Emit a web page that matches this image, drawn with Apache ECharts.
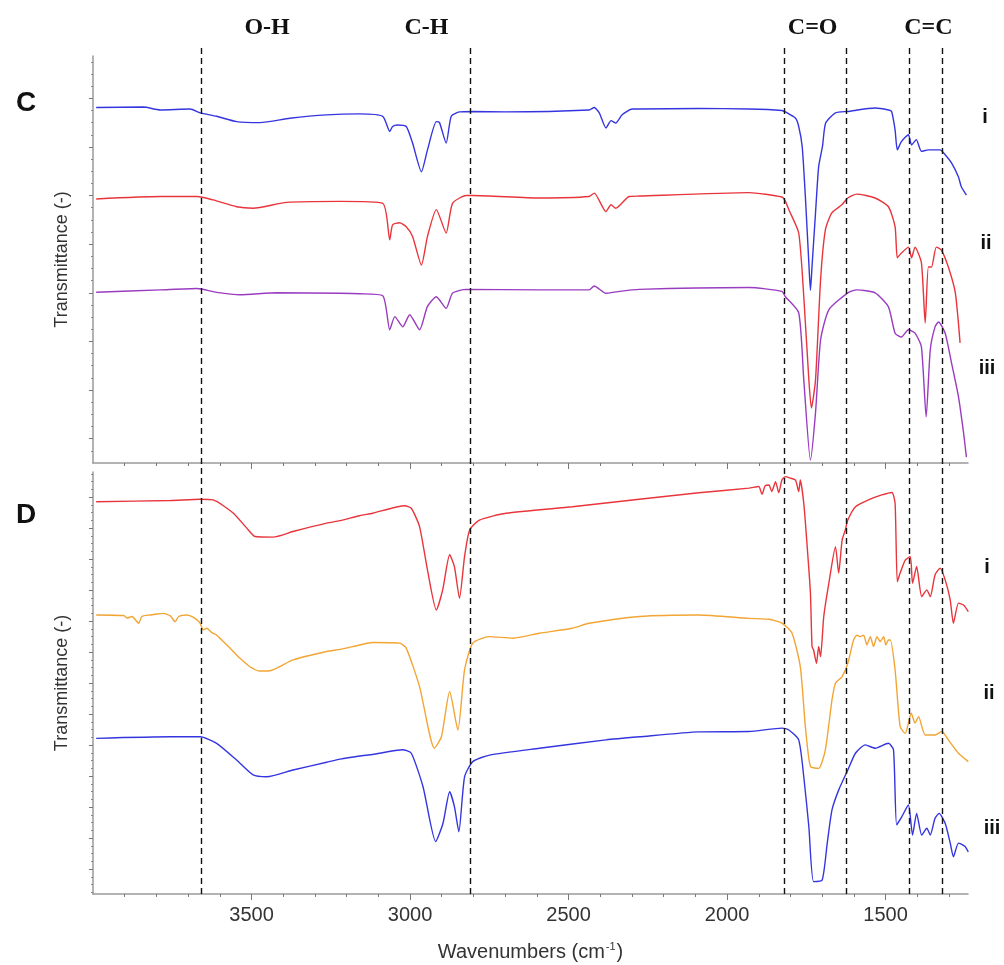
<!DOCTYPE html>
<html>
<head>
<meta charset="utf-8">
<script src="https://cdn.jsdelivr.net/npm/echarts@6/dist/echarts.min.js"></script>
<style>
html,body{margin:0;padding:0;background:#fff;}
#chart{width:1004px;height:965px;}
</style>
</head>
<body>
<div id="chart"></div>
<script>
// ---- Data: [wavenumber (cm-1), transmittance (a.u., offset)] ----
const cI = [[3990,73.1],[3841,73.2],[3788,72.6],[3694,72.8],[3662,72.0],[3610,71.3],[3547,70.2],[3473,70.0],[3379,70.9],[3263,71.6],[3159,71.8],[3086,71.3],[3064,68.2],[3055,69.2],[3039,69.5],[3012,69.2],[2992,65.8],[2964,59.9],[2945,64.4],[2917,70.2],[2907,70.0],[2886,65.8],[2870,71.3],[2844,72.2],[2803,72.3],[2697,72.2],[2435,72.6],[2419,73.1],[2403,72.0],[2382,68.9],[2366,70.4],[2351,69.9],[2331,71.6],[2299,72.8],[2277,72.8],[2089,72.9],[1931,72.8],[1827,72.5],[1816,72.2],[1784,70.9],[1774,69.2],[1763,65.1],[1753,54.8],[1742,41.1],[1737,35.5],[1732,40.4],[1721,51.4],[1711,61.0],[1699,65.1],[1689,69.9],[1658,72.0],[1619,72.3],[1533,73.0],[1491,72.6],[1481,72.3],[1470,68.5],[1463,64.4],[1450,66.1],[1428,67.5],[1418,65.4],[1403,66.5],[1387,64.1],[1365,64.4],[1328,64.4],[1312,63.4],[1292,61.7],[1270,58.8],[1261,56.8],[1245,55.1]];

const cII = [[3990,54.3],[3788,54.8],[3672,54.8],[3621,54.1],[3547,52.7],[3495,52.4],[3389,53.6],[3221,53.8],[3086,53.4],[3064,45.9],[3055,49.0],[3033,49.4],[3012,48.6],[2992,46.6],[2964,40.7],[2945,46.6],[2917,52.1],[2886,47.3],[2866,53.4],[2823,55.0],[2803,55.0],[2592,54.5],[2435,54.8],[2419,55.5],[2382,51.7],[2366,53.1],[2351,52.4],[2309,54.8],[2277,54.9],[1931,55.6],[1827,54.7],[1816,53.8],[1805,52.1],[1774,47.3],[1758,34.2],[1742,17.1],[1734,11.3],[1721,17.1],[1705,37.7],[1690,47.9],[1670,51.4],[1638,53.1],[1619,54.5],[1591,55.3],[1533,54.5],[1491,52.7],[1470,48.6],[1463,42.2],[1450,43.2],[1428,44.4],[1418,42.2],[1407,44.4],[1387,41.2],[1375,28.8],[1365,40.3],[1355,40.3],[1340,44.4],[1324,43.8],[1302,40.3],[1280,35.0],[1265,24.7]];

const cIII = [[3990,35.1],[3788,35.6],[3672,35.9],[3610,35.1],[3536,34.6],[3421,35.0],[3221,34.9],[3159,34.8],[3086,34.4],[3064,27.4],[3048,30.1],[3023,28.0],[3001,30.5],[2970,27.4],[2945,32.2],[2917,34.2],[2886,31.8],[2866,34.9],[2823,35.7],[2592,35.6],[2435,35.6],[2419,36.4],[2382,34.9],[2351,35.2],[2277,35.7],[1931,36.1],[1827,35.3],[1816,34.2],[1774,30.9],[1758,17.1],[1737,0.6],[1721,10.3],[1705,25.3],[1679,31.5],[1619,35.0],[1591,35.6],[1533,35.0],[1491,32.1],[1470,26.7],[1450,25.9],[1428,27.4],[1407,26.7],[1387,23.9],[1372,9.5],[1359,23.3],[1344,28.0],[1333,29.0],[1312,26.7],[1292,20.6],[1270,13.6],[1254,6.2],[1245,1.2]];

const dI = [[3990,126.5],[3756,126.9],[3662,127.3],[3621,127.1],[3558,122.9],[3515,118.0],[3489,115.3],[3432,115.1],[3369,116.9],[3263,119.6],[3221,120.4],[3159,122.0],[3118,122.8],[3017,125.2],[2996,124.4],[2970,118.5],[2945,104.5],[2917,91.6],[2897,98.1],[2875,109.4],[2860,105.6],[2844,95.4],[2828,108.8],[2812,117.4],[2781,120.6],[2697,122.8],[2488,124.9],[2277,127.3],[2089,129.4],[1931,130.9],[1900,131.4],[1890,128.9],[1880,131.6],[1868,131.9],[1859,129.8],[1847,133.0],[1837,129.4],[1827,133.5],[1816,134.6],[1800,134.1],[1784,133.5],[1774,129.8],[1769,133.5],[1758,126.0],[1748,113.1],[1737,97.0],[1732,79.8],[1727,78.7],[1718,74.4],[1711,79.8],[1705,76.5],[1695,89.5],[1679,100.2],[1658,112.0],[1648,103.5],[1637,114.2],[1627,117.4],[1619,120.6],[1595,124.9],[1554,127.1],[1512,128.7],[1480,129.5],[1470,126.0],[1463,100.7],[1454,103.5],[1438,107.7],[1422,108.8],[1415,100.2],[1402,105.6],[1386,95.9],[1370,98.1],[1359,95.9],[1344,102.9],[1328,105.1],[1312,101.3],[1296,94.8],[1286,87.3],[1270,93.8],[1254,93.2],[1239,91.1]];

const dII = [[3990,90.0],[3903,89.8],[3893,89.0],[3877,89.5],[3856,87.3],[3846,89.5],[3819,90.0],[3798,90.3],[3778,90.5],[3756,89.7],[3741,87.8],[3730,89.5],[3704,90.0],[3689,89.5],[3672,88.4],[3662,87.3],[3652,85.2],[3641,85.7],[3625,84.3],[3610,83.5],[3589,81.4],[3568,79.3],[3536,76.0],[3505,73.3],[3473,71.9],[3442,72.0],[3369,75.5],[3263,78.2],[3221,78.9],[3159,80.3],[3118,81.1],[3033,80.9],[3012,79.3],[2970,66.9],[2923,47.0],[2901,50.7],[2875,65.3],[2849,52.9],[2828,72.3],[2802,80.9],[2749,83.0],[2676,82.5],[2592,84.1],[2488,85.7],[2435,87.3],[2277,89.5],[2089,90.0],[1931,88.9],[1868,88.6],[1826,87.3],[1795,84.1],[1769,73.3],[1753,54.0],[1737,41.1],[1711,40.5],[1690,46.5],[1669,62.6],[1658,68.0],[1637,70.1],[1619,74.4],[1601,81.9],[1590,83.5],[1580,83.0],[1569,83.5],[1559,80.3],[1548,83.0],[1538,79.8],[1527,83.0],[1517,81.4],[1506,83.0],[1499,80.3],[1491,81.9],[1485,81.9],[1470,72.3],[1454,54.0],[1438,51.8],[1419,58.3],[1407,55.1],[1396,57.2],[1375,51.3],[1344,51.3],[1323,52.4],[1302,49.7],[1270,45.4],[1239,42.7]];

const dIII = [[3990,50.2],[3756,50.7],[3662,50.7],[3610,48.6],[3547,43.2],[3495,38.4],[3452,37.8],[3369,40.0],[3263,42.5],[3221,43.5],[3159,44.5],[3118,45.0],[3023,46.5],[2996,45.4],[2959,34.6],[2919,16.9],[2896,22.8],[2875,33.0],[2860,28.2],[2846,20.1],[2828,37.8],[2802,42.7],[2749,44.8],[2592,47.0],[2382,49.7],[2277,50.7],[2089,52.3],[1931,52.4],[1826,53.5],[1805,52.9],[1774,49.7],[1758,37.8],[1742,21.7],[1727,4.0],[1700,4.5],[1684,16.4],[1669,27.1],[1648,33.5],[1619,40.0],[1595,45.4],[1564,48.1],[1533,47.0],[1491,48.6],[1475,46.5],[1465,22.3],[1449,24.9],[1428,28.7],[1415,19.0],[1402,26.0],[1386,19.0],[1370,21.2],[1359,19.0],[1344,24.4],[1331,26.0],[1312,22.8],[1296,16.4],[1286,12.0],[1270,16.4],[1249,15.3],[1239,13.6]];

// band markers (dashed lines) and band labels
const dashedLines = [3660, 2810, 1820, 1625, 1425, 1320];
const bandLabels = ['O-H', 'C-H', 'C=O', 'C=C'];
const bandCenters = [3451, 2948, 1730, 1365];

// x-axis ticks
const xLabelValues = [1500, 2000, 2500, 3000, 3500];
const xMin = 1240, xMax = 4000;
const yMaxC = 83.7, yMaxD = 136.1;

// ---- derived tick lists ----
const xMinor = []; for (let v = 1300; v <= 3900; v += 100) if (v % 500) xMinor.push(v);
function ticks(start, step, max){ const a=[]; for(let v=start; v<=max+1e-9; v+=step) a.push(+v.toFixed(2)); return a; }
const cMajor = ticks(5, 10, yMaxC);
const cMinor = ticks(2.5, 2.5, yMaxC).filter(v => !cMajor.includes(v));
const dMajor = ticks(8, 10, yMaxD);
const dMinor = ticks(0.5, 2.5, yMaxD).filter(v => !dMajor.includes(v));

const AX = '#9a9a9a';
const FONT = 'Liberation Sans, Arial, sans-serif';

function xAx(grid, opts){
  return Object.assign({
    type:'value', gridIndex:grid, min:xMin, max:xMax, inverse:true, position:'bottom',
    axisLine:{show:false}, splitLine:{show:false},
    axisTick:{show:false}, axisLabel:{show:false}
  }, opts);
}
function yAx(grid, max, opts){
  return Object.assign({
    type:'value', gridIndex:grid, min:0, max:max, position:'left',
    axisLine:{show:false}, splitLine:{show:false},
    axisTick:{show:false}, axisLabel:{show:false}
  }, opts);
}
const lineAx = {show:true, lineStyle:{color:AX, width:1.5}};

const xAxis = [
  xAx(0, {axisLine:lineAx, axisTick:{show:true, customValues:xMinor, length:3, lineStyle:{color:'#777'}}}),
  xAx(0, {axisTick:{show:true, customValues:xLabelValues, length:6, lineStyle:{color:'#777'}}}),
  xAx(1, {axisLine:lineAx, axisTick:{show:true, customValues:xMinor, length:3, lineStyle:{color:'#777'}}}),
  xAx(1, {axisTick:{show:true, customValues:xLabelValues, length:6, lineStyle:{color:'#777'}},
          axisLabel:{show:true, customValues:xLabelValues, formatter:v => String(v), fontSize:20, color:'#333', fontFamily:FONT, margin:11},
          name:'Wavenumbers (cm{sup|-1})', nameLocation:'middle', nameGap:47,
          nameTextStyle:{fontSize:20, color:'#333', fontFamily:FONT, lineHeight:22,
            rich:{sup:{fontSize:11, color:'#333', fontFamily:FONT, verticalAlign:'top', lineHeight:22, padding:[0,1,9,1]}}}}),
  xAx(2, {})
];
const yName = {name:'Transmittance (-)', nameLocation:'middle', nameGap:22,
  nameTextStyle:{fontSize:18, color:'#333', fontFamily:FONT}};
const yAxis = [
  yAx(0, yMaxC, Object.assign({axisLine:lineAx, axisTick:{show:true, customValues:cMajor, length:4, lineStyle:{color:'#777'}}}, yName)),
  yAx(0, yMaxC, {axisTick:{show:true, customValues:cMinor, length:2, lineStyle:{color:'#888'}}}),
  yAx(1, yMaxD, Object.assign({axisLine:lineAx, axisTick:{show:true, customValues:dMajor, length:4, lineStyle:{color:'#777'}}}, yName)),
  yAx(1, yMaxD, {axisTick:{show:true, customValues:dMinor, length:2, lineStyle:{color:'#888'}}}),
  yAx(2, 1, {})
];

function spec(data, xi, yi, color){
  return {type:'line', data:data, xAxisIndex:xi, yAxisIndex:yi, showSymbol:false, symbol:'none',
    smooth:0.2,
    lineStyle:{color:color, width:1.4}, itemStyle:{color:color}, silent:true, clip:false};
}

const series = [
  spec(cI, 0, 0, '#3535e0'),
  spec(cII, 0, 0, '#e8353c'),
  spec(cIII, 0, 0, '#9a3cc0'),
  spec(dI, 2, 2, '#e8353c'),
  spec(dII, 2, 2, '#f2a534'),
  spec(dIII, 2, 2, '#3535e0'),
  {type:'line', data:[], xAxisIndex:4, yAxisIndex:4, silent:true,
   markLine:{silent:true, symbol:['none','none'], animation:false,
     lineStyle:{color:'#111', type:[6,4], width:1.4},
     label:{show:false},
     data: dashedLines.map(v => ({xAxis:v}))},
   markPoint:{silent:true, symbol:'rect', symbolSize:0, animation:false,
     label:{show:true, position:'top', distance:8, formatter:'{b}',
       fontFamily:'Liberation Serif, Times New Roman, serif', fontWeight:'bold', fontSize:24, color:'#111'},
     data: bandLabels.map((n,i) => ({name:n, coord:[bandCenters[i], 1]}))}
  }
];

const txt = (x, y, s, size) => ({type:'text', x:x, y:y, silent:true,
  style:{text:s, fill:'#111', font:'bold '+size+'px '+FONT, textAlign:'center', textVerticalAlign:'middle'}});

const option = {
  animation:false,
  backgroundColor:'#fff',
  grid:[
    {left:93, top:56, width:875, height:407},
    {left:93, top:472, width:875, height:422},
    {left:93, top:48, width:875, height:846}
  ],
  xAxis:xAxis, yAxis:yAxis, series:series,
  graphic:[
    txt(26, 103, 'C', 28), txt(26, 515, 'D', 28),
    txt(985, 117, 'i', 20), txt(986, 243, 'ii', 20), txt(987, 368, 'iii', 20),
    txt(987, 567, 'i', 20), txt(989, 693, 'ii', 20), txt(992, 828, 'iii', 20)
  ]
};
const chart = echarts.init(document.getElementById('chart'), null, {renderer:'canvas'});
chart.setOption(option);
</script>
</body>
</html>
